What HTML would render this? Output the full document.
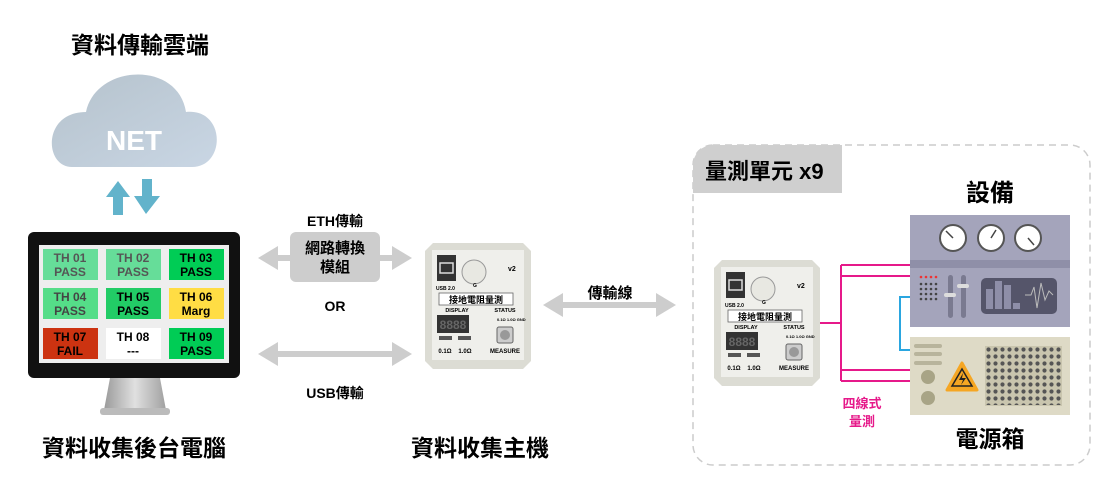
<!DOCTYPE html>
<html><head><meta charset="utf-8"><style>
html,body{margin:0;padding:0;background:#fff;width:1110px;height:501px;overflow:hidden}
svg{display:block}
text{font-family:"Liberation Sans","Noto Sans CJK TC",sans-serif;font-weight:bold}
</style></head><body>
<svg width="1110" height="501" viewBox="0 0 1110 501" xmlns="http://www.w3.org/2000/svg">
<defs>
<linearGradient id="cl" x1="0" y1="0" x2="1" y2="1"><stop offset="0" stop-color="#b5c2cc"/><stop offset="1" stop-color="#c9d6e4"/></linearGradient>
<linearGradient id="st" x1="0" y1="0" x2="1" y2="0"><stop offset="0" stop-color="#9a9a9a"/><stop offset=".5" stop-color="#e0e0e0"/><stop offset="1" stop-color="#a0a0a0"/></linearGradient>
<g id="dev">
<path d="M8 0 H98 L106 8 V118 L98 126 H8 L0 118 V8 Z" fill="#dcdcd4"/>
<rect x="7" y="7" width="92" height="110" fill="#efefeb"/>
<rect x="12" y="12" width="19" height="26" fill="#333"/>
<rect x="15" y="20" width="13" height="10" fill="none" stroke="#ddd" stroke-width="1.5"/>
<circle cx="49" cy="29" r="12" fill="#e8e8e2" stroke="#999" stroke-width="1"/>
<text x="83" y="28" font-size="7">v2</text>
<text x="11" y="47" font-size="5">USB 2.0</text>
<text x="48" y="44" font-size="5">G</text>
<rect x="14" y="50" width="74" height="12" fill="#fff" stroke="#666" stroke-width="0.8"/>
<text x="51" y="60" font-size="9" text-anchor="middle" font-weight="normal">接地電阻量測</text>
<text x="32" y="69" font-size="5.5" text-anchor="middle">DISPLAY</text>
<text x="80" y="69" font-size="5.5" text-anchor="middle">STATUS</text>
<rect x="12" y="72" width="32" height="18" fill="#333"/>
<text x="28" y="86" font-size="12" fill="#666" text-anchor="middle" font-weight="normal">8888</text>
<rect x="72" y="84" width="16" height="16" rx="2" fill="#ccc" stroke="#666"/>
<circle cx="80" cy="92" r="5" fill="#999"/>
<rect x="14" y="93" width="13" height="4" fill="#555"/><rect x="33" y="93" width="13" height="4" fill="#555"/>
<text x="20" y="110" font-size="6" text-anchor="middle">0.1Ω</text>
<text x="40" y="110" font-size="6" text-anchor="middle">1.0Ω</text>
<text x="80" y="110" font-size="6" text-anchor="middle">MEASURE</text>
<text x="72" y="78" font-size="4">0.1Ω 1.0Ω GND</text>
</g>
</defs>

<!-- cloud section -->
<text x="140" y="53" font-size="23" text-anchor="middle">資料傳輸雲端</text>
<path d="M72 167 C44 167 42 112 86 112 C96 64 178 60 186 112 C226 108 226 167 192 167 Z" fill="url(#cl)"/>
<text x="134" y="150" font-size="28" fill="#fff" text-anchor="middle">NET</text>
<path d="M106 197 L118 181 L130 197 H123 V215 H113 V197 Z" fill="#62b3cb"/>
<path d="M134 196 L146 214 L160 196 H152 V179 H142 V196 Z" fill="#62b3cb"/>

<!-- monitor -->
<path d="M110 378 H160 L166 410 H104 Z" fill="url(#st)"/>
<rect x="100" y="408" width="70" height="7" rx="3" fill="#bbb"/>
<rect x="28" y="232" width="212" height="146" rx="6" fill="#111"/>
<rect x="39" y="245" width="190" height="118" fill="#eee"/>
<g font-size="12" text-anchor="middle">
<rect x="43" y="249" width="55" height="31" fill="#66dd99"/><text x="70" y="262" fill="#555">TH 01</text><text x="70" y="276" fill="#555">PASS</text>
<rect x="106" y="249" width="55" height="31" fill="#66dd99"/><text x="133" y="262" fill="#555">TH 02</text><text x="133" y="276" fill="#555">PASS</text>
<rect x="169" y="249" width="55" height="31" fill="#00cc55"/><text x="196" y="262">TH 03</text><text x="196" y="276">PASS</text>
<rect x="43" y="288" width="55" height="31" fill="#55dd88"/><text x="70" y="301" fill="#444">TH 04</text><text x="70" y="315" fill="#444">PASS</text>
<rect x="106" y="288" width="55" height="31" fill="#22cc66"/><text x="133" y="301">TH 05</text><text x="133" y="315">PASS</text>
<rect x="169" y="288" width="55" height="31" fill="#ffdd44"/><text x="196" y="301">TH 06</text><text x="196" y="315">Marg</text>
<rect x="43" y="328" width="55" height="31" fill="#cc3311"/><text x="70" y="341">TH 07</text><text x="70" y="355">FAIL</text>
<rect x="106" y="328" width="55" height="31" fill="#fff"/><text x="133" y="341">TH 08</text><text x="133" y="355">---</text>
<rect x="169" y="328" width="55" height="31" fill="#00cc55"/><text x="196" y="341">TH 09</text><text x="196" y="355">PASS</text>
</g>
<text x="134" y="456" font-size="23" text-anchor="middle">資料收集後台電腦</text>

<!-- middle arrows -->
<path d="M258 258 L278 246 V255 H392 V246 L412 258 L392 270 V261 H278 V270 Z" fill="#cdcdcd"/>
<rect x="290" y="232" width="90" height="50" rx="6" fill="#cdcdcd"/>
<text x="335" y="226" font-size="14" text-anchor="middle">ETH傳輸</text>
<text x="335" y="253" font-size="15" text-anchor="middle">網路轉換</text>
<text x="335" y="272" font-size="15" text-anchor="middle">模組</text>
<text x="335" y="311" font-size="14" text-anchor="middle">OR</text>
<path d="M258 354 L278 342 V351 H392 V342 L412 354 L392 366 V357 H278 V366 Z" fill="#cdcdcd"/>
<text x="335" y="398" font-size="14" text-anchor="middle">USB傳輸</text>

<use href="#dev" x="425" y="243"/>
<text x="480" y="456" font-size="23" text-anchor="middle">資料收集主機</text>

<text x="610" y="298" font-size="15" text-anchor="middle">傳輸線</text>
<path d="M543 305 L563 293 V302 H656 V293 L676 305 L656 317 V308 H563 V317 Z" fill="#cdcdcd"/>

<!-- dashed unit -->
<rect x="693" y="145" width="397" height="320" rx="20" fill="none" stroke="#ccc" stroke-width="1.5" stroke-dasharray="7,5"/>
<path d="M693 165 A20 20 0 0 1 713 145 H842 V193 H693 Z" fill="#cfcfcf"/>
<text x="705" y="179" font-size="22">量測單元 x9</text>

<use href="#dev" x="714" y="260"/>

<!-- wires -->
<g fill="none" stroke="#e6198a" stroke-width="2">
<path d="M820 323 H841"/><path d="M841 265 V381"/>
<path d="M841 265 H910 M841 276 H910 M841 370 H910 M841 381 H910"/>
</g>
<path d="M910 297 H900 V350 H910" fill="none" stroke="#2aa6e0" stroke-width="2"/>
<text x="862" y="408" font-size="13" fill="#e6198a" text-anchor="middle">四線式</text>
<text x="862" y="426" font-size="13" fill="#e6198a" text-anchor="middle">量測</text>

<!-- equipment -->
<text x="990" y="201" font-size="24" text-anchor="middle">設備</text>
<rect x="910" y="215" width="160" height="112" fill="#a4a4bb"/>
<rect x="910" y="260" width="160" height="8" fill="#8f8fa8"/>
<g fill="#fff" stroke="#555" stroke-width="2">
<circle cx="953" cy="238" r="13"/><circle cx="991" cy="238" r="13"/><circle cx="1028" cy="238" r="13"/>
</g>
<g stroke="#444" stroke-width="1.5"><path d="M953 238 L946 231 M991 238 L996 230 M1028 238 L1034 245"/></g>
<g fill="#e33"><circle cx="921" cy="277" r="1.3"/><circle cx="926" cy="277" r="1.3"/><circle cx="931" cy="277" r="1.3"/><circle cx="936" cy="277" r="1.3"/></g>
<g fill="#444">
<circle cx="921" cy="284" r="1.3"/><circle cx="926" cy="284" r="1.3"/><circle cx="931" cy="284" r="1.3"/><circle cx="936" cy="284" r="1.3"/>
<circle cx="921" cy="289" r="1.3"/><circle cx="926" cy="289" r="1.3"/><circle cx="931" cy="289" r="1.3"/><circle cx="936" cy="289" r="1.3"/>
<circle cx="921" cy="294" r="1.3"/><circle cx="926" cy="294" r="1.3"/><circle cx="931" cy="294" r="1.3"/><circle cx="936" cy="294" r="1.3"/>
<circle cx="921" cy="299" r="1.3"/><circle cx="926" cy="299" r="1.3"/><circle cx="931" cy="299" r="1.3"/><circle cx="936" cy="299" r="1.3"/>
</g>
<rect x="948" y="275" width="5" height="43" rx="2.5" fill="#7a7a90"/><rect x="961" y="275" width="5" height="43" rx="2.5" fill="#7a7a90"/>
<rect x="944" y="293" width="12" height="4" rx="2" fill="#ddd"/><rect x="957" y="284" width="12" height="4" rx="2" fill="#ddd"/>
<rect x="981" y="278" width="76" height="36" rx="5" fill="#55556a"/>
<rect x="986" y="289" width="7" height="20" fill="#8e8ea8"/><rect x="995" y="281" width="7" height="28" fill="#8e8ea8"/><rect x="1004" y="285" width="7" height="24" fill="#8e8ea8"/><rect x="1013" y="303" width="7" height="6" fill="#8e8ea8"/>
<path d="M1025 295 H1031 L1034 287 L1037 308 L1041 283 L1045 300 L1049 291 L1053 295" fill="none" stroke="#bbb" stroke-width="1"/>

<!-- power box -->
<rect x="910" y="337" width="160" height="78" fill="#dedac6"/>
<rect x="914" y="344" width="28" height="4" rx="2" fill="#b8b49c"/><rect x="914" y="352" width="28" height="4" rx="2" fill="#b8b49c"/><rect x="914" y="361" width="28" height="4" rx="2" fill="#b8b49c"/>
<circle cx="928" cy="377" r="7" fill="#a8a486"/><circle cx="928" cy="398" r="7" fill="#a8a486"/>
<path d="M962 363 L977 390 H947 Z" fill="#f5a623" stroke="#f5a623" stroke-width="3" stroke-linejoin="round"/>
<path d="M962 369 L972 386 H952 Z" fill="none" stroke="#222" stroke-width="1.5"/>
<path d="M963 373 L959 380 H963 L961 385 L966 378 H962 Z" fill="#222"/>
<rect x="985" y="346" width="77" height="60" fill="#c9c5ae"/>
<pattern id="hx" width="7" height="7" patternUnits="userSpaceOnUse" x="985" y="346"><circle cx="3.5" cy="3.5" r="2.1" fill="#555"/></pattern>
<rect x="986" y="347" width="75" height="58" fill="url(#hx)"/>
<text x="990" y="447" font-size="23" text-anchor="middle">電源箱</text>
</svg>
</body></html>
